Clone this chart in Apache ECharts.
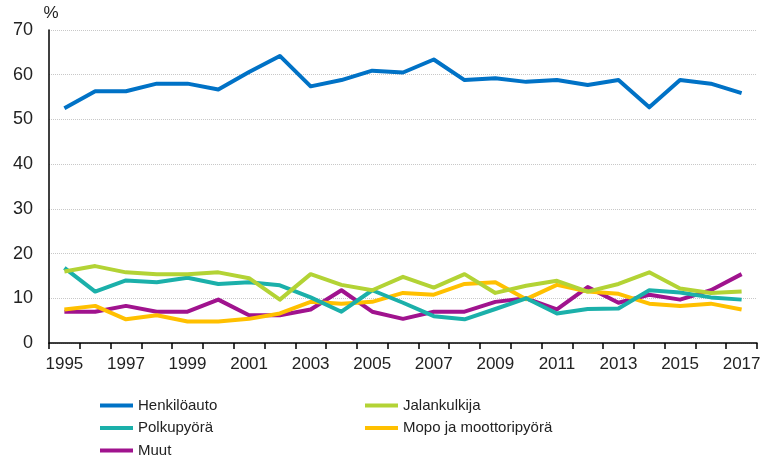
<!DOCTYPE html>
<html>
<head>
<meta charset="utf-8">
<script src="https://cdn.jsdelivr.net/npm/echarts@6/dist/echarts.min.js"></script>
<style>html,body{margin:0;padding:0;background:#fff}#c{width:765px;height:464px}</style>
</head>
<body>
<div id="c"></div>
<script>
const years = ['1995','1996','1997','1998','1999','2000','2001','2002','2003','2004','2005','2006','2007','2008','2009','2010','2011','2012','2013','2014','2015','2016','2017'];
const henkiloauto = [52.5,56.3,56.3,58.0,58.0,56.7,60.6,64.2,57.4,58.8,60.9,60.5,63.4,58.8,59.2,58.4,58.8,57.7,58.8,52.7,58.8,58.0,55.9];
const jalankulkija = [16.0,17.2,15.8,15.4,15.4,15.8,14.5,9.7,15.4,13.0,11.8,14.8,12.4,15.4,11.2,12.8,13.9,11.5,13.2,15.8,12.2,11.2,11.5];
const polkupyora = [16.8,11.5,14.0,13.6,14.6,13.2,13.6,12.9,10.2,7.0,11.8,9.0,6.0,5.3,7.6,10.0,6.6,7.6,7.7,11.8,11.3,10.2,9.7];
const mopo = [7.5,8.3,5.3,6.2,4.8,4.8,5.4,6.6,9.2,8.8,9.2,11.2,10.8,13.2,13.6,9.8,13.0,11.5,11.0,8.8,8.3,8.8,7.5];
const muut = [7.0,7.0,8.3,7.0,7.0,9.7,6.2,6.2,7.5,11.8,7.0,5.4,7.0,7.0,9.2,10.0,7.5,12.5,9.0,10.8,9.7,11.8,15.4];
const names = ['Henkilöauto','Jalankulkija','Polkupyörä','Mopo ja moottoripyörä','Muut'];
const colors = ['#0072c6','#b3d335','#1bb0aa','#ffc000','#a0138e'];
const values = [henkiloauto, jalankulkija, polkupyora, mopo, muut];

const chart = echarts.init(document.getElementById('c'));
const font = 'Liberation Sans, Arial, sans-serif';
const legendText = {fontFamily: font, fontSize: 15, color: '#222'};
chart.setOption({
  animation: false,
  grid: {left: 49, right: 8, top: 30, bottom: 121},
  xAxis: {
    type: 'category', data: years, boundaryGap: true,
    axisLine: {lineStyle: {color: '#000', width: 1.5}},
    axisTick: {show: true, interval: 0, length: 6, lineStyle: {color: '#000', width: 1.5}},
    axisLabel: {interval: 1, fontFamily: font, fontSize: 17, color: '#222', margin: 13}
  },
  yAxis: {
    type: 'value', min: 0, max: 70, interval: 10,
    name: '%', nameLocation: 'end', nameGap: 8,
    nameTextStyle: {fontFamily: font, fontSize: 17, color: '#222', align: 'center', padding: [0, 0, 0, 4]},
    axisLine: {show: true, lineStyle: {color: '#000', width: 1.5}},
    axisTick: {show: false},
    axisLabel: {fontFamily: font, fontSize: 18, color: '#222', margin: 16},
    splitLine: {lineStyle: {color: '#c8c8c8', type: 'dotted', width: 1}}
  },
  legend: [
    {orient: 'vertical', left: 100, top: 398, padding: 0, itemWidth: 33, itemHeight: 14, itemGap: 7.5,
     icon: 'path://M0,5L32,5L32,9L0,9Z', textStyle: legendText,
     data: ['Henkilöauto','Polkupyörä','Muut']},
    {orient: 'vertical', left: 365, top: 398, padding: 0, itemWidth: 33, itemHeight: 14, itemGap: 7.5,
     icon: 'path://M0,5L32,5L32,9L0,9Z', textStyle: legendText,
     data: ['Jalankulkija','Mopo ja moottoripyörä']}
  ],
  series: names.map((n, i) => ({
    name: n, type: 'line', data: values[i], symbol: 'none',
    lineStyle: {color: colors[i], width: 4, join: 'round'},
    itemStyle: {color: colors[i]}, z: 10 - i
  }))
});
</script>
</body>
</html>
